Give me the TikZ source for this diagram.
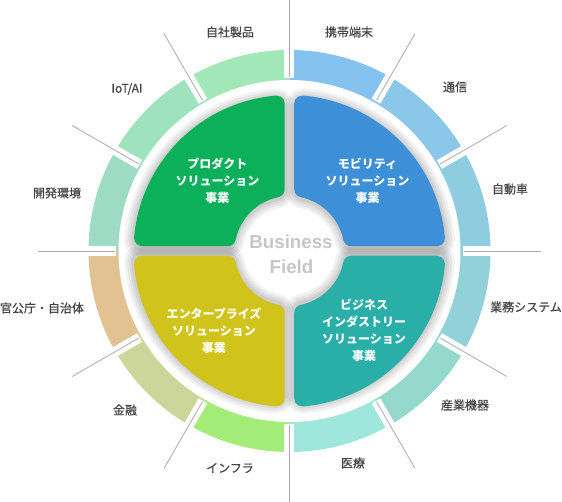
\documentclass[tikz,border=0pt]{standalone}
\usepackage{fontspec}
\newfontfamily\jp{Noto Sans CJK JP}
\newfontfamily\jplbl[FakeBold=0.6]{Noto Sans CJK JP}
\newfontfamily\bizfont{Liberation Sans}
\definecolor{s0}{HTML}{8ECDE0}
\definecolor{s30}{HTML}{8BC7E8}
\definecolor{s60}{HTML}{86C2EF}
\definecolor{s90}{HTML}{A2E7B7}
\definecolor{s120}{HTML}{9EE2BE}
\definecolor{s150}{HTML}{9DDBC5}
\definecolor{s180}{HTML}{E2C290}
\definecolor{s210}{HTML}{CDD69A}
\definecolor{s240}{HTML}{A3EC78}
\definecolor{s270}{HTML}{9FE6DC}
\definecolor{s300}{HTML}{95D9CC}
\definecolor{s330}{HTML}{92D0DA}
\definecolor{qgreen}{HTML}{0DB05A}
\definecolor{qblue}{HTML}{3D8FD7}
\definecolor{qyellow}{HTML}{D0C41C}
\definecolor{qteal}{HTML}{2AAFA8}
\definecolor{labelgray}{HTML}{454545}
\definecolor{linegray}{HTML}{ABABAB}
\definecolor{bizgray}{HTML}{C6C6C6}
\newcommand\quadpath{(\qg,\qyi) -- (\qg,\qyo)
  arc[start angle=180, end angle=\qto, radius=\qc]
  arc[start angle=\qto, end angle=\qa, radius=\qR]
  arc[start angle=\qa, end angle=-90, radius=\qc]
  -- (\qyi,\qg)
  arc[start angle=-90, end angle=\qb, radius=\qc]
  arc[start angle=\qpi, end angle=\qd, radius=\qr]
  arc[start angle=\qe, end angle=180, radius=\qc] -- cycle}
\newcommand\quadrant[2]{%
  \begin{scope}[#1]
    \begin{scope}[shift={(0.8,-2)}]
      \foreach \w in {18,13,8,4} {\draw[black, opacity=0.05, line width=\w pt] \quadpath;}
    \end{scope}
    \fill[#2] \quadpath;
  \end{scope}}
\begin{document}
\begin{tikzpicture}[x=1pt,y=1pt,
  lbl/.style={font=\jplbl\fontsize{12}{14}\selectfont, text=labelgray, inner sep=0pt},
  qtxt/.style={font=\jp\bfseries\fontsize{12}{17}\selectfont, text=white, align=center, inner sep=0pt},
  sepline/.style={draw=linegray, line width=0.8pt},
  gapstrip/.style={draw=white, line width=10pt},
  biz/.style={font=\bizfont\bfseries\fontsize{18.7}{20}\selectfont, text=bizgray, inner sep=0pt}]
\useasboundingbox (-289.5,-251) rectangle (272.5,251);
\pgfmathsetmacro\qR{156}
\pgfmathsetmacro\qr{55}
\pgfmathsetmacro\qg{4.75}
\pgfmathsetmacro\qc{8}
\pgfmathsetmacro\qyo{10*sqrt(((\qR-\qc)/10)^2-((\qg+\qc)/10)^2)}
\pgfmathsetmacro\qto{atan2(\qyo,\qg+\qc)}
\pgfmathsetmacro\qyi{10*sqrt(((\qr+\qc)/10)^2-((\qg+\qc)/10)^2)}
\pgfmathsetmacro\qpi{atan2(\qg+\qc,\qyi)}
\pgfmathsetmacro\qa{90-\qto}
\pgfmathsetmacro\qb{-180+\qpi}
\pgfmathsetmacro\qd{90-\qpi}
\pgfmathsetmacro\qe{270-\qpi}
% outer ring segments
\foreach \a in {0,30,...,330} {
  \pgfmathtruncatemacro\b{\a+30}
  \fill[s\a] (\a:165) arc[start angle=\a, end angle=\b, radius=165]
    -- (\b:201) arc[start angle=\b, end angle=\a, radius=201] -- cycle;
}
% white gaps
\foreach \a in {0,30,...,330} {\draw[gapstrip] (\a:173) -- (\a:206);}
% white disk
\fill[white] (0,0) circle (171);
% quadrants
\quadrant{}{qblue}
\quadrant{xscale=-1}{qgreen}
\quadrant{yscale=-1}{qteal}
\quadrant{xscale=-1,yscale=-1}{qyellow}
% separator lines
\foreach \a in {0,30,...,330} {\draw[sepline] (\a:174) -- (\a:251);}
% center text
\node[biz] (bus) at (1.5,9.3) {Business};
\node[biz] (fld) at (2,-16.3) {Field};
% quadrant texts
\node[qtxt] (tg) at (-72,70.3) {プロダクト\\ソリューション\\事業};
\node[qtxt] (tb) at (78,70.3) {モビリティ\\ソリューション\\事業};
\node[qtxt] (ty) at (-75.5,-79.8) {エンタープライズ\\ソリューション\\事業};
\node[qtxt] (tt) at (74.5,-79.8) {ビジネス\\インダストリー\\ソリューション\\事業};
% outer labels
\node[lbl] (l1) at (-59.5,219) {自社製品};
\node[lbl] (l2) at (59.5,219) {携帯端末};
\node[lbl] (l3) at (165.5,164) {通信};
\node[lbl] (l4) at (220.5,62) {自動車};
\node[lbl] (l5) at (236.5,-56) {業務システム};
\node[lbl] (l6) at (175.5,-154) {産業機器};
\node[lbl] (l7) at (63.5,-212) {医療};
\node[lbl] (l8) at (-59.5,-217) {インフラ};
\node[lbl] (l9) at (-164.5,-159) {金融};
\node[lbl] (l10) at (-247.5,-57) {官公庁・自治体};
\node[lbl] (l11) at (-232.5,58) {開発環境};
\node[lbl] (l12) at (-162.5,162) {IoT/AI};
\end{tikzpicture}
\end{document}
